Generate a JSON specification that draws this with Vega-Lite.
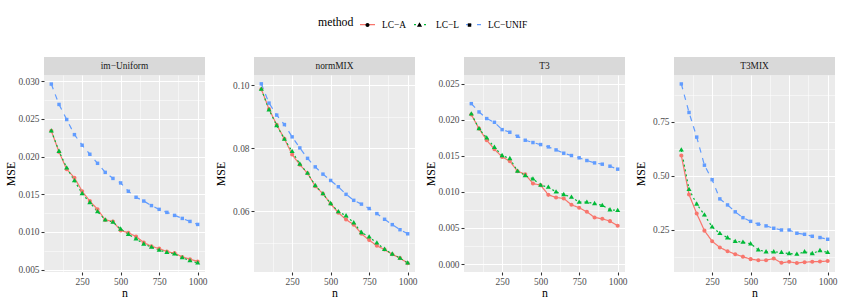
{
  "$schema": "https://vega.github.io/schema/vega-lite/v6.json",
  "padding": {"top": 16, "left": 5, "right": 5, "bottom": 5},
  "spacing": 7,
  "config": {
    "font": "Liberation Serif",
    "view": {"fill": "#EBEBEB", "stroke": null},
    "text": {"font": "Liberation Serif"},
    "axis": {
      "domain": false, "grid": true, "gridColor": "#FFFFFF",
      "tickColor": "#333333", "tickSize": 3, "tickWidth": 1.07,
      "labelColor": "#4D4D4D", "labelFontSize": 9.4, "labelFont": "Liberation Serif", "labelPadding": 2,
      "titleFont": "Liberation Serif", "titleFontSize": 11.8, "titleFontWeight": "normal", "titleColor": "#000000"
    },
    "legend": {"labelFont": "Liberation Serif", "titleFont": "Liberation Serif"}
  },
  "datasets": {
    "d": [
      {"panel":"im−Uniform","method":"LC−A","n":50,"MSE":0.0234},{"panel":"im−Uniform","method":"LC−A","n":100,"MSE":0.0206},{"panel":"im−Uniform","method":"LC−A","n":150,"MSE":0.0183},{"panel":"im−Uniform","method":"LC−A","n":200,"MSE":0.0172},{"panel":"im−Uniform","method":"LC−A","n":250,"MSE":0.0154},{"panel":"im−Uniform","method":"LC−A","n":300,"MSE":0.0141},{"panel":"im−Uniform","method":"LC−A","n":350,"MSE":0.0130},{"panel":"im−Uniform","method":"LC−A","n":400,"MSE":0.0116},{"panel":"im−Uniform","method":"LC−A","n":450,"MSE":0.0114},{"panel":"im−Uniform","method":"LC−A","n":500,"MSE":0.0102},{"panel":"im−Uniform","method":"LC−A","n":550,"MSE":0.0099},{"panel":"im−Uniform","method":"LC−A","n":600,"MSE":0.0094},{"panel":"im−Uniform","method":"LC−A","n":650,"MSE":0.0086},{"panel":"im−Uniform","method":"LC−A","n":700,"MSE":0.0081},{"panel":"im−Uniform","method":"LC−A","n":750,"MSE":0.0078},{"panel":"im−Uniform","method":"LC−A","n":800,"MSE":0.0074},{"panel":"im−Uniform","method":"LC−A","n":850,"MSE":0.0072},{"panel":"im−Uniform","method":"LC−A","n":900,"MSE":0.0067},{"panel":"im−Uniform","method":"LC−A","n":950,"MSE":0.0064},{"panel":"im−Uniform","method":"LC−A","n":1000,"MSE":0.0061},
      {"panel":"im−Uniform","method":"LC−L","n":50,"MSE":0.0234},{"panel":"im−Uniform","method":"LC−L","n":100,"MSE":0.0207},{"panel":"im−Uniform","method":"LC−L","n":150,"MSE":0.0185},{"panel":"im−Uniform","method":"LC−L","n":200,"MSE":0.0168},{"panel":"im−Uniform","method":"LC−L","n":250,"MSE":0.0151},{"panel":"im−Uniform","method":"LC−L","n":300,"MSE":0.0139},{"panel":"im−Uniform","method":"LC−L","n":350,"MSE":0.0127},{"panel":"im−Uniform","method":"LC−L","n":400,"MSE":0.0116},{"panel":"im−Uniform","method":"LC−L","n":450,"MSE":0.0113},{"panel":"im−Uniform","method":"LC−L","n":500,"MSE":0.0104},{"panel":"im−Uniform","method":"LC−L","n":550,"MSE":0.0097},{"panel":"im−Uniform","method":"LC−L","n":600,"MSE":0.0091},{"panel":"im−Uniform","method":"LC−L","n":650,"MSE":0.0084},{"panel":"im−Uniform","method":"LC−L","n":700,"MSE":0.0080},{"panel":"im−Uniform","method":"LC−L","n":750,"MSE":0.0076},{"panel":"im−Uniform","method":"LC−L","n":800,"MSE":0.0073},{"panel":"im−Uniform","method":"LC−L","n":850,"MSE":0.0071},{"panel":"im−Uniform","method":"LC−L","n":900,"MSE":0.0066},{"panel":"im−Uniform","method":"LC−L","n":950,"MSE":0.0062},{"panel":"im−Uniform","method":"LC−L","n":1000,"MSE":0.0059},
      {"panel":"im−Uniform","method":"LC−UNIF","n":50,"MSE":0.0296},{"panel":"im−Uniform","method":"LC−UNIF","n":100,"MSE":0.0269},{"panel":"im−Uniform","method":"LC−UNIF","n":150,"MSE":0.0249},{"panel":"im−Uniform","method":"LC−UNIF","n":200,"MSE":0.0229},{"panel":"im−Uniform","method":"LC−UNIF","n":250,"MSE":0.0215},{"panel":"im−Uniform","method":"LC−UNIF","n":300,"MSE":0.0203},{"panel":"im−Uniform","method":"LC−UNIF","n":350,"MSE":0.0191},{"panel":"im−Uniform","method":"LC−UNIF","n":400,"MSE":0.0179},{"panel":"im−Uniform","method":"LC−UNIF","n":450,"MSE":0.0171},{"panel":"im−Uniform","method":"LC−UNIF","n":500,"MSE":0.0165},{"panel":"im−Uniform","method":"LC−UNIF","n":550,"MSE":0.0154},{"panel":"im−Uniform","method":"LC−UNIF","n":600,"MSE":0.0146},{"panel":"im−Uniform","method":"LC−UNIF","n":650,"MSE":0.0141},{"panel":"im−Uniform","method":"LC−UNIF","n":700,"MSE":0.0135},{"panel":"im−Uniform","method":"LC−UNIF","n":750,"MSE":0.0130},{"panel":"im−Uniform","method":"LC−UNIF","n":800,"MSE":0.0126},{"panel":"im−Uniform","method":"LC−UNIF","n":850,"MSE":0.0122},{"panel":"im−Uniform","method":"LC−UNIF","n":900,"MSE":0.0118},{"panel":"im−Uniform","method":"LC−UNIF","n":950,"MSE":0.0114},{"panel":"im−Uniform","method":"LC−UNIF","n":1000,"MSE":0.0110},

      {"panel":"normMIX","method":"LC−A","n":50,"MSE":0.0987},{"panel":"normMIX","method":"LC−A","n":100,"MSE":0.0924},{"panel":"normMIX","method":"LC−A","n":150,"MSE":0.0874},{"panel":"normMIX","method":"LC−A","n":200,"MSE":0.0830},{"panel":"normMIX","method":"LC−A","n":250,"MSE":0.0780},{"panel":"normMIX","method":"LC−A","n":300,"MSE":0.0748},{"panel":"normMIX","method":"LC−A","n":350,"MSE":0.0721},{"panel":"normMIX","method":"LC−A","n":400,"MSE":0.0680},{"panel":"normMIX","method":"LC−A","n":450,"MSE":0.0656},{"panel":"normMIX","method":"LC−A","n":500,"MSE":0.0624},{"panel":"normMIX","method":"LC−A","n":550,"MSE":0.0596},{"panel":"normMIX","method":"LC−A","n":600,"MSE":0.0574},{"panel":"normMIX","method":"LC−A","n":650,"MSE":0.0558},{"panel":"normMIX","method":"LC−A","n":700,"MSE":0.0529},{"panel":"normMIX","method":"LC−A","n":750,"MSE":0.0509},{"panel":"normMIX","method":"LC−A","n":800,"MSE":0.0491},{"panel":"normMIX","method":"LC−A","n":850,"MSE":0.0479},{"panel":"normMIX","method":"LC−A","n":900,"MSE":0.0464},{"panel":"normMIX","method":"LC−A","n":950,"MSE":0.0452},{"panel":"normMIX","method":"LC−A","n":1000,"MSE":0.0436},
      {"panel":"normMIX","method":"LC−L","n":50,"MSE":0.0987},{"panel":"normMIX","method":"LC−L","n":100,"MSE":0.0922},{"panel":"normMIX","method":"LC−L","n":150,"MSE":0.0872},{"panel":"normMIX","method":"LC−L","n":200,"MSE":0.0829},{"panel":"normMIX","method":"LC−L","n":250,"MSE":0.0790},{"panel":"normMIX","method":"LC−L","n":300,"MSE":0.0750},{"panel":"normMIX","method":"LC−L","n":350,"MSE":0.0721},{"panel":"normMIX","method":"LC−L","n":400,"MSE":0.0682},{"panel":"normMIX","method":"LC−L","n":450,"MSE":0.0656},{"panel":"normMIX","method":"LC−L","n":500,"MSE":0.0625},{"panel":"normMIX","method":"LC−L","n":550,"MSE":0.0599},{"panel":"normMIX","method":"LC−L","n":600,"MSE":0.0586},{"panel":"normMIX","method":"LC−L","n":650,"MSE":0.0564},{"panel":"normMIX","method":"LC−L","n":700,"MSE":0.0533},{"panel":"normMIX","method":"LC−L","n":750,"MSE":0.0519},{"panel":"normMIX","method":"LC−L","n":800,"MSE":0.0500},{"panel":"normMIX","method":"LC−L","n":850,"MSE":0.0480},{"panel":"normMIX","method":"LC−L","n":900,"MSE":0.0465},{"panel":"normMIX","method":"LC−L","n":950,"MSE":0.0452},{"panel":"normMIX","method":"LC−L","n":1000,"MSE":0.0437},
      {"panel":"normMIX","method":"LC−UNIF","n":50,"MSE":0.1004},{"panel":"normMIX","method":"LC−UNIF","n":100,"MSE":0.0943},{"panel":"normMIX","method":"LC−UNIF","n":150,"MSE":0.0905},{"panel":"normMIX","method":"LC−UNIF","n":200,"MSE":0.0875},{"panel":"normMIX","method":"LC−UNIF","n":250,"MSE":0.0836},{"panel":"normMIX","method":"LC−UNIF","n":300,"MSE":0.0801},{"panel":"normMIX","method":"LC−UNIF","n":350,"MSE":0.0768},{"panel":"normMIX","method":"LC−UNIF","n":400,"MSE":0.0741},{"panel":"normMIX","method":"LC−UNIF","n":450,"MSE":0.0718},{"panel":"normMIX","method":"LC−UNIF","n":500,"MSE":0.0698},{"panel":"normMIX","method":"LC−UNIF","n":550,"MSE":0.0678},{"panel":"normMIX","method":"LC−UNIF","n":600,"MSE":0.0654},{"panel":"normMIX","method":"LC−UNIF","n":650,"MSE":0.0635},{"panel":"normMIX","method":"LC−UNIF","n":700,"MSE":0.0623},{"panel":"normMIX","method":"LC−UNIF","n":750,"MSE":0.0609},{"panel":"normMIX","method":"LC−UNIF","n":800,"MSE":0.0593},{"panel":"normMIX","method":"LC−UNIF","n":850,"MSE":0.0575},{"panel":"normMIX","method":"LC−UNIF","n":900,"MSE":0.0558},{"panel":"normMIX","method":"LC−UNIF","n":950,"MSE":0.0542},{"panel":"normMIX","method":"LC−UNIF","n":1000,"MSE":0.0529},

      {"panel":"T3","method":"LC−A","n":50,"MSE":0.02071},{"panel":"T3","method":"LC−A","n":100,"MSE":0.01877},{"panel":"T3","method":"LC−A","n":150,"MSE":0.01716},{"panel":"T3","method":"LC−A","n":200,"MSE":0.01591},{"panel":"T3","method":"LC−A","n":250,"MSE":0.01485},{"panel":"T3","method":"LC−A","n":300,"MSE":0.01425},{"panel":"T3","method":"LC−A","n":350,"MSE":0.01287},{"panel":"T3","method":"LC−A","n":400,"MSE":0.01245},{"panel":"T3","method":"LC−A","n":450,"MSE":0.01116},{"panel":"T3","method":"LC−A","n":500,"MSE":0.01093},{"panel":"T3","method":"LC−A","n":550,"MSE":0.00959},{"panel":"T3","method":"LC−A","n":600,"MSE":0.00923},{"panel":"T3","method":"LC−A","n":650,"MSE":0.00909},{"panel":"T3","method":"LC−A","n":700,"MSE":0.00821},{"panel":"T3","method":"LC−A","n":750,"MSE":0.00780},{"panel":"T3","method":"LC−A","n":800,"MSE":0.00724},{"panel":"T3","method":"LC−A","n":850,"MSE":0.00646},{"panel":"T3","method":"LC−A","n":900,"MSE":0.00627},{"panel":"T3","method":"LC−A","n":950,"MSE":0.00595},{"panel":"T3","method":"LC−A","n":1000,"MSE":0.00530},
      {"panel":"T3","method":"LC−L","n":50,"MSE":0.02080},{"panel":"T3","method":"LC−L","n":100,"MSE":0.01877},{"panel":"T3","method":"LC−L","n":150,"MSE":0.01748},{"panel":"T3","method":"LC−L","n":200,"MSE":0.01619},{"panel":"T3","method":"LC−L","n":250,"MSE":0.01504},{"panel":"T3","method":"LC−L","n":300,"MSE":0.01462},{"panel":"T3","method":"LC−L","n":350,"MSE":0.01287},{"panel":"T3","method":"LC−L","n":400,"MSE":0.01227},{"panel":"T3","method":"LC−L","n":450,"MSE":0.01181},{"panel":"T3","method":"LC−L","n":500,"MSE":0.01093},{"panel":"T3","method":"LC−L","n":550,"MSE":0.01065},{"panel":"T3","method":"LC−L","n":600,"MSE":0.01001},{"panel":"T3","method":"LC−L","n":650,"MSE":0.00964},{"panel":"T3","method":"LC−L","n":700,"MSE":0.00927},{"panel":"T3","method":"LC−L","n":750,"MSE":0.00858},{"panel":"T3","method":"LC−L","n":800,"MSE":0.00858},{"panel":"T3","method":"LC−L","n":850,"MSE":0.00839},{"panel":"T3","method":"LC−L","n":900,"MSE":0.00812},{"panel":"T3","method":"LC−L","n":950,"MSE":0.00752},{"panel":"T3","method":"LC−L","n":1000,"MSE":0.00743},
      {"panel":"T3","method":"LC−UNIF","n":50,"MSE":0.02223},{"panel":"T3","method":"LC−UNIF","n":100,"MSE":0.02108},{"panel":"T3","method":"LC−UNIF","n":150,"MSE":0.02016},{"panel":"T3","method":"LC−UNIF","n":200,"MSE":0.01965},{"panel":"T3","method":"LC−UNIF","n":250,"MSE":0.01863},{"panel":"T3","method":"LC−UNIF","n":300,"MSE":0.01827},{"panel":"T3","method":"LC−UNIF","n":350,"MSE":0.01771},{"panel":"T3","method":"LC−UNIF","n":400,"MSE":0.01716},{"panel":"T3","method":"LC−UNIF","n":450,"MSE":0.01684},{"panel":"T3","method":"LC−UNIF","n":500,"MSE":0.01656},{"panel":"T3","method":"LC−UNIF","n":550,"MSE":0.01624},{"panel":"T3","method":"LC−UNIF","n":600,"MSE":0.01582},{"panel":"T3","method":"LC−UNIF","n":650,"MSE":0.01536},{"panel":"T3","method":"LC−UNIF","n":700,"MSE":0.01504},{"panel":"T3","method":"LC−UNIF","n":750,"MSE":0.01472},{"panel":"T3","method":"LC−UNIF","n":800,"MSE":0.01435},{"panel":"T3","method":"LC−UNIF","n":850,"MSE":0.01402},{"panel":"T3","method":"LC−UNIF","n":900,"MSE":0.01384},{"panel":"T3","method":"LC−UNIF","n":950,"MSE":0.01356},{"panel":"T3","method":"LC−UNIF","n":1000,"MSE":0.01315},

      {"panel":"T3MIX","method":"LC−A","n":50,"MSE":0.593},{"panel":"T3MIX","method":"LC−A","n":100,"MSE":0.412},{"panel":"T3MIX","method":"LC−A","n":150,"MSE":0.324},{"panel":"T3MIX","method":"LC−A","n":200,"MSE":0.245},{"panel":"T3MIX","method":"LC−A","n":250,"MSE":0.196},{"panel":"T3MIX","method":"LC−A","n":300,"MSE":0.167},{"panel":"T3MIX","method":"LC−A","n":350,"MSE":0.150},{"panel":"T3MIX","method":"LC−A","n":400,"MSE":0.136},{"panel":"T3MIX","method":"LC−A","n":450,"MSE":0.124},{"panel":"T3MIX","method":"LC−A","n":500,"MSE":0.113},{"panel":"T3MIX","method":"LC−A","n":550,"MSE":0.108},{"panel":"T3MIX","method":"LC−A","n":600,"MSE":0.108},{"panel":"T3MIX","method":"LC−A","n":650,"MSE":0.116},{"panel":"T3MIX","method":"LC−A","n":700,"MSE":0.096},{"panel":"T3MIX","method":"LC−A","n":750,"MSE":0.101},{"panel":"T3MIX","method":"LC−A","n":800,"MSE":0.095},{"panel":"T3MIX","method":"LC−A","n":850,"MSE":0.099},{"panel":"T3MIX","method":"LC−A","n":900,"MSE":0.101},{"panel":"T3MIX","method":"LC−A","n":950,"MSE":0.102},{"panel":"T3MIX","method":"LC−A","n":1000,"MSE":0.104},
      {"panel":"T3MIX","method":"LC−L","n":50,"MSE":0.619},{"panel":"T3MIX","method":"LC−L","n":100,"MSE":0.436},{"panel":"T3MIX","method":"LC−L","n":150,"MSE":0.368},{"panel":"T3MIX","method":"LC−L","n":200,"MSE":0.318},{"panel":"T3MIX","method":"LC−L","n":250,"MSE":0.262},{"panel":"T3MIX","method":"LC−L","n":300,"MSE":0.232},{"panel":"T3MIX","method":"LC−L","n":350,"MSE":0.212},{"panel":"T3MIX","method":"LC−L","n":400,"MSE":0.195},{"panel":"T3MIX","method":"LC−L","n":450,"MSE":0.192},{"panel":"T3MIX","method":"LC−L","n":500,"MSE":0.184},{"panel":"T3MIX","method":"LC−L","n":550,"MSE":0.156},{"panel":"T3MIX","method":"LC−L","n":600,"MSE":0.147},{"panel":"T3MIX","method":"LC−L","n":650,"MSE":0.147},{"panel":"T3MIX","method":"LC−L","n":700,"MSE":0.144},{"panel":"T3MIX","method":"LC−L","n":750,"MSE":0.139},{"panel":"T3MIX","method":"LC−L","n":800,"MSE":0.136},{"panel":"T3MIX","method":"LC−L","n":850,"MSE":0.147},{"panel":"T3MIX","method":"LC−L","n":900,"MSE":0.139},{"panel":"T3MIX","method":"LC−L","n":950,"MSE":0.153},{"panel":"T3MIX","method":"LC−L","n":1000,"MSE":0.144},
      {"panel":"T3MIX","method":"LC−UNIF","n":50,"MSE":0.924},{"panel":"T3MIX","method":"LC−UNIF","n":100,"MSE":0.792},{"panel":"T3MIX","method":"LC−UNIF","n":150,"MSE":0.678},{"panel":"T3MIX","method":"LC−UNIF","n":200,"MSE":0.548},{"panel":"T3MIX","method":"LC−UNIF","n":250,"MSE":0.481},{"panel":"T3MIX","method":"LC−UNIF","n":300,"MSE":0.392},{"panel":"T3MIX","method":"LC−UNIF","n":350,"MSE":0.364},{"panel":"T3MIX","method":"LC−UNIF","n":400,"MSE":0.332},{"panel":"T3MIX","method":"LC−UNIF","n":450,"MSE":0.305},{"panel":"T3MIX","method":"LC−UNIF","n":500,"MSE":0.288},{"panel":"T3MIX","method":"LC−UNIF","n":550,"MSE":0.275},{"panel":"T3MIX","method":"LC−UNIF","n":600,"MSE":0.267},{"panel":"T3MIX","method":"LC−UNIF","n":650,"MSE":0.256},{"panel":"T3MIX","method":"LC−UNIF","n":700,"MSE":0.248},{"panel":"T3MIX","method":"LC−UNIF","n":750,"MSE":0.248},{"panel":"T3MIX","method":"LC−UNIF","n":800,"MSE":0.233},{"panel":"T3MIX","method":"LC−UNIF","n":850,"MSE":0.228},{"panel":"T3MIX","method":"LC−UNIF","n":900,"MSE":0.219},{"panel":"T3MIX","method":"LC−UNIF","n":950,"MSE":0.213},{"panel":"T3MIX","method":"LC−UNIF","n":1000,"MSE":0.205}
    ]
  },
  "resolve": {"scale": {"color": "shared", "shape": "shared", "strokeDash": "shared"}, "legend": {"color": "shared", "shape": "shared", "strokeDash": "shared"}},
  "hconcat": [
    {"spacing": 0, "bounds": "flush", "vconcat": [
      {"width": 161, "height": 18, "view": {"fill": "#D9D9D9", "stroke": null}, "data": {"values": [{"label": "im−Uniform"}]}, "mark": {"type": "text", "font": "Liberation Serif", "fontSize": 9.4, "color": "#1A1A1A"}, "encoding": {"text": {"field": "label"}}},
      {"width": 161, "height": 197, "data": {"name": "d"}, "transform": [{"filter": "datum.panel === 'im−Uniform'"}],
       "encoding": {
         "x": {"field": "n", "type": "quantitative", "scale": {"domain": [2.5, 1047.5], "nice": false, "zero": false}, "axis": {"title": "n", "titlePadding": 2, "format": "d", "values": [125,250,375,500,625,750,875,1000], "labelExpr": "datum.value % 250 === 0 ? datum.label : ''", "tickOpacity": {"condition": {"test": "datum.value % 250 === 0", "value": 1}, "value": 0}, "gridWidth": {"condition": {"test": "datum.value % 250 === 0", "value": 1.07}, "value": 0.53}}},
         "y": {"field": "MSE", "type": "quantitative", "scale": {"domain": [0.0047, 0.0308], "nice": false, "zero": false}, "axis": {"title": "MSE", "titlePadding": 2, "minExtent": 26, "maxExtent": 26, "format": ".3f", "values": [0.005,0.0075,0.01,0.0125,0.015,0.0175,0.02,0.0225,0.025,0.0275,0.03], "labelExpr": "abs(datum.value*200 - round(datum.value*200)) < 1e-6 ? datum.label : ''", "tickOpacity": {"condition": {"test": "abs(datum.value*200 - round(datum.value*200)) < 1e-6", "value": 1}, "value": 0}, "gridWidth": {"condition": {"test": "abs(datum.value*200 - round(datum.value*200)) < 1e-6", "value": 1.07}, "value": 0.53}}}
       },
       "layer": [
         {"mark": {"type": "line", "strokeWidth": 1.2}, "encoding": {
           "color": {"field": "method", "type": "nominal", "scale": {"domain": ["LC−A", "LC−L", "LC−UNIF"], "range": ["#F8766D", "#00BA38", "#619CFF"]}, "legend": {"orient": "none", "legendX": 274, "legendY": -41, "direction": "horizontal", "title": "method", "titleOrient": "left", "titleAnchor": "middle", "titleBaseline": "middle", "titleFontSize": 11.8, "titleFontWeight": "normal", "titleColor": "#000000", "titlePadding": 5, "labelFontSize": 9.4, "labelColor": "#000000", "labelOffset": 6, "columnPadding": 4, "symbolType": "stroke", "symbolSize": 225, "symbolStrokeWidth": 1.3}},
           "strokeDash": {"field": "method", "type": "nominal", "scale": {"domain": ["LC−A", "LC−L", "LC−UNIF"], "range": [[1, 0], [2, 3], [5.5, 5.5]]}, "legend": {"orient": "none", "legendX": 274, "legendY": -41, "direction": "horizontal", "title": "method", "titleOrient": "left", "titleAnchor": "middle", "titleBaseline": "middle", "titleFontSize": 11.8, "titleFontWeight": "normal", "titleColor": "#000000", "titlePadding": 5, "labelFontSize": 9.4, "labelColor": "#000000", "labelOffset": 6, "columnPadding": 4, "symbolType": "stroke", "symbolSize": 225, "symbolStrokeWidth": 1.3}}}},
         {"mark": {"type": "point", "filled": true, "opacity": 1, "size": 225}, "encoding": {
           "color": {"field": "method", "type": "nominal", "scale": {"domain": ["LC−A", "LC−L", "LC−UNIF"], "range": ["#F8766D", "#00BA38", "#619CFF"]}, "legend": null},
           "shape": {"field": "method", "type": "nominal", "scale": {"range": ["M -0.27 0 A 0.27 0.27 0 1 0 0.27 0 A 0.27 0.27 0 1 0 -0.27 0 Z", "M 0 -0.36 L 0.34 0.22 L -0.34 0.22 Z", "M -0.23 -0.23 L 0.23 -0.23 L 0.23 0.23 L -0.23 0.23 Z"]}, "legend": {"orient": "none", "legendX": 274, "legendY": -41, "direction": "horizontal", "title": "method", "titleOrient": "left", "titleAnchor": "middle", "titleBaseline": "middle", "titleFontSize": 11.8, "titleFontWeight": "normal", "titleOpacity": 0, "titlePadding": 5, "labelFontSize": 9.4, "labelOpacity": 0, "labelOffset": 6, "columnPadding": 4, "symbolSize": 225, "symbolStrokeWidth": 1.3, "symbolStrokeColor": "transparent", "encode": {"symbols": {"fill": {"value": {"expr": "datum.value === 'LC−A' ? '#F8766D' : (datum.value === 'LC−L' ? '#00BA38' : '#619CFF')"}}, "fillOpacity": {"value": 1}}}}}}}
       ]}
    ]},
    {"spacing": 0, "bounds": "flush", "vconcat": [
      {"width": 161, "height": 18, "view": {"fill": "#D9D9D9", "stroke": null}, "data": {"values": [{"label": "normMIX"}]}, "mark": {"type": "text", "font": "Liberation Serif", "fontSize": 9.4, "color": "#1A1A1A"}, "encoding": {"text": {"field": "label"}}},
      {"width": 161, "height": 197, "data": {"name": "d"}, "transform": [{"filter": "datum.panel === 'normMIX'"}],
       "encoding": {
         "x": {"field": "n", "type": "quantitative", "scale": {"domain": [2.5, 1047.5], "nice": false, "zero": false}, "axis": {"title": "n", "titlePadding": 2, "format": "d", "values": [125,250,375,500,625,750,875,1000], "labelExpr": "datum.value % 250 === 0 ? datum.label : ''", "tickOpacity": {"condition": {"test": "datum.value % 250 === 0", "value": 1}, "value": 0}, "gridWidth": {"condition": {"test": "datum.value % 250 === 0", "value": 1.07}, "value": 0.53}}},
         "y": {"field": "MSE", "type": "quantitative", "scale": {"domain": [0.0408, 0.1032], "nice": false, "zero": false}, "axis": {"title": "MSE", "titlePadding": 2, "minExtent": 26, "maxExtent": 26, "format": ".2f", "values": [0.05,0.06,0.07,0.08,0.09,0.1], "labelExpr": "abs(datum.value*50 - round(datum.value*50)) < 1e-6 ? datum.label : ''", "tickOpacity": {"condition": {"test": "abs(datum.value*50 - round(datum.value*50)) < 1e-6", "value": 1}, "value": 0}, "gridWidth": {"condition": {"test": "abs(datum.value*50 - round(datum.value*50)) < 1e-6", "value": 1.07}, "value": 0.53}}}
       },
       "layer": [
         {"mark": {"type": "line", "strokeWidth": 1.2}, "encoding": {
           "color": {"field": "method", "type": "nominal", "scale": {"domain": ["LC−A", "LC−L", "LC−UNIF"], "range": ["#F8766D", "#00BA38", "#619CFF"]}, "legend": {"orient": "none", "legendX": 274, "legendY": -41, "direction": "horizontal", "title": "method", "titleOrient": "left", "titleAnchor": "middle", "titleBaseline": "middle", "titleFontSize": 11.8, "titleFontWeight": "normal", "titleColor": "#000000", "titlePadding": 5, "labelFontSize": 9.4, "labelColor": "#000000", "labelOffset": 6, "columnPadding": 4, "symbolType": "stroke", "symbolSize": 225, "symbolStrokeWidth": 1.3}},
           "strokeDash": {"field": "method", "type": "nominal", "scale": {"domain": ["LC−A", "LC−L", "LC−UNIF"], "range": [[1, 0], [2, 3], [5.5, 5.5]]}, "legend": {"orient": "none", "legendX": 274, "legendY": -41, "direction": "horizontal", "title": "method", "titleOrient": "left", "titleAnchor": "middle", "titleBaseline": "middle", "titleFontSize": 11.8, "titleFontWeight": "normal", "titleColor": "#000000", "titlePadding": 5, "labelFontSize": 9.4, "labelColor": "#000000", "labelOffset": 6, "columnPadding": 4, "symbolType": "stroke", "symbolSize": 225, "symbolStrokeWidth": 1.3}}}},
         {"mark": {"type": "point", "filled": true, "opacity": 1, "size": 225}, "encoding": {
           "color": {"field": "method", "type": "nominal", "scale": {"domain": ["LC−A", "LC−L", "LC−UNIF"], "range": ["#F8766D", "#00BA38", "#619CFF"]}, "legend": null},
           "shape": {"field": "method", "type": "nominal", "scale": {"range": ["M -0.27 0 A 0.27 0.27 0 1 0 0.27 0 A 0.27 0.27 0 1 0 -0.27 0 Z", "M 0 -0.36 L 0.34 0.22 L -0.34 0.22 Z", "M -0.23 -0.23 L 0.23 -0.23 L 0.23 0.23 L -0.23 0.23 Z"]}, "legend": {"orient": "none", "legendX": 274, "legendY": -41, "direction": "horizontal", "title": "method", "titleOrient": "left", "titleAnchor": "middle", "titleBaseline": "middle", "titleFontSize": 11.8, "titleFontWeight": "normal", "titleOpacity": 0, "titlePadding": 5, "labelFontSize": 9.4, "labelOpacity": 0, "labelOffset": 6, "columnPadding": 4, "symbolSize": 225, "symbolStrokeWidth": 1.3, "symbolStrokeColor": "transparent", "encode": {"symbols": {"fill": {"value": {"expr": "datum.value === 'LC−A' ? '#F8766D' : (datum.value === 'LC−L' ? '#00BA38' : '#619CFF')"}}, "fillOpacity": {"value": 1}}}}}}}
       ]}
    ]},
    {"spacing": 0, "bounds": "flush", "vconcat": [
      {"width": 161, "height": 18, "view": {"fill": "#D9D9D9", "stroke": null}, "data": {"values": [{"label": "T3"}]}, "mark": {"type": "text", "font": "Liberation Serif", "fontSize": 9.4, "color": "#1A1A1A"}, "encoding": {"text": {"field": "label"}}},
      {"width": 161, "height": 197, "data": {"name": "d"}, "transform": [{"filter": "datum.panel === 'T3'"}],
       "encoding": {
         "x": {"field": "n", "type": "quantitative", "scale": {"domain": [2.5, 1047.5], "nice": false, "zero": false}, "axis": {"title": "n", "titlePadding": 2, "format": "d", "values": [125,250,375,500,625,750,875,1000], "labelExpr": "datum.value % 250 === 0 ? datum.label : ''", "tickOpacity": {"condition": {"test": "datum.value % 250 === 0", "value": 1}, "value": 0}, "gridWidth": {"condition": {"test": "datum.value % 250 === 0", "value": 1.07}, "value": 0.53}}},
         "y": {"field": "MSE", "type": "quantitative", "scale": {"domain": [-0.0011, 0.0262], "nice": false, "zero": false}, "axis": {"title": "MSE", "titlePadding": 2, "minExtent": 26, "maxExtent": 26, "format": ".3f", "values": [0,0.0025,0.005,0.0075,0.01,0.0125,0.015,0.0175,0.02,0.0225,0.025], "labelExpr": "abs(datum.value*200 - round(datum.value*200)) < 1e-6 ? datum.label : ''", "tickOpacity": {"condition": {"test": "abs(datum.value*200 - round(datum.value*200)) < 1e-6", "value": 1}, "value": 0}, "gridWidth": {"condition": {"test": "abs(datum.value*200 - round(datum.value*200)) < 1e-6", "value": 1.07}, "value": 0.53}}}
       },
       "layer": [
         {"mark": {"type": "line", "strokeWidth": 1.2}, "encoding": {
           "color": {"field": "method", "type": "nominal", "scale": {"domain": ["LC−A", "LC−L", "LC−UNIF"], "range": ["#F8766D", "#00BA38", "#619CFF"]}, "legend": {"orient": "none", "legendX": 274, "legendY": -41, "direction": "horizontal", "title": "method", "titleOrient": "left", "titleAnchor": "middle", "titleBaseline": "middle", "titleFontSize": 11.8, "titleFontWeight": "normal", "titleColor": "#000000", "titlePadding": 5, "labelFontSize": 9.4, "labelColor": "#000000", "labelOffset": 6, "columnPadding": 4, "symbolType": "stroke", "symbolSize": 225, "symbolStrokeWidth": 1.3}},
           "strokeDash": {"field": "method", "type": "nominal", "scale": {"domain": ["LC−A", "LC−L", "LC−UNIF"], "range": [[1, 0], [2, 3], [5.5, 5.5]]}, "legend": {"orient": "none", "legendX": 274, "legendY": -41, "direction": "horizontal", "title": "method", "titleOrient": "left", "titleAnchor": "middle", "titleBaseline": "middle", "titleFontSize": 11.8, "titleFontWeight": "normal", "titleColor": "#000000", "titlePadding": 5, "labelFontSize": 9.4, "labelColor": "#000000", "labelOffset": 6, "columnPadding": 4, "symbolType": "stroke", "symbolSize": 225, "symbolStrokeWidth": 1.3}}}},
         {"mark": {"type": "point", "filled": true, "opacity": 1, "size": 225}, "encoding": {
           "color": {"field": "method", "type": "nominal", "scale": {"domain": ["LC−A", "LC−L", "LC−UNIF"], "range": ["#F8766D", "#00BA38", "#619CFF"]}, "legend": null},
           "shape": {"field": "method", "type": "nominal", "scale": {"range": ["M -0.27 0 A 0.27 0.27 0 1 0 0.27 0 A 0.27 0.27 0 1 0 -0.27 0 Z", "M 0 -0.36 L 0.34 0.22 L -0.34 0.22 Z", "M -0.23 -0.23 L 0.23 -0.23 L 0.23 0.23 L -0.23 0.23 Z"]}, "legend": {"orient": "none", "legendX": 274, "legendY": -41, "direction": "horizontal", "title": "method", "titleOrient": "left", "titleAnchor": "middle", "titleBaseline": "middle", "titleFontSize": 11.8, "titleFontWeight": "normal", "titleOpacity": 0, "titlePadding": 5, "labelFontSize": 9.4, "labelOpacity": 0, "labelOffset": 6, "columnPadding": 4, "symbolSize": 225, "symbolStrokeWidth": 1.3, "symbolStrokeColor": "transparent", "encode": {"symbols": {"fill": {"value": {"expr": "datum.value === 'LC−A' ? '#F8766D' : (datum.value === 'LC−L' ? '#00BA38' : '#619CFF')"}}, "fillOpacity": {"value": 1}}}}}}}
       ]}
    ]},
    {"spacing": 0, "bounds": "flush", "vconcat": [
      {"width": 161, "height": 18, "view": {"fill": "#D9D9D9", "stroke": null}, "data": {"values": [{"label": "T3MIX"}]}, "mark": {"type": "text", "font": "Liberation Serif", "fontSize": 9.4, "color": "#1A1A1A"}, "encoding": {"text": {"field": "label"}}},
      {"width": 161, "height": 197, "data": {"name": "d"}, "transform": [{"filter": "datum.panel === 'T3MIX'"}],
       "encoding": {
         "x": {"field": "n", "type": "quantitative", "scale": {"domain": [2.5, 1047.5], "nice": false, "zero": false}, "axis": {"title": "n", "titlePadding": 2, "format": "d", "values": [125,250,375,500,625,750,875,1000], "labelExpr": "datum.value % 250 === 0 ? datum.label : ''", "tickOpacity": {"condition": {"test": "datum.value % 250 === 0", "value": 1}, "value": 0}, "gridWidth": {"condition": {"test": "datum.value % 250 === 0", "value": 1.07}, "value": 0.53}}},
         "y": {"field": "MSE", "type": "quantitative", "scale": {"domain": [0.0535, 0.9655], "nice": false, "zero": false}, "axis": {"title": "MSE", "titlePadding": 2, "minExtent": 26, "maxExtent": 26, "format": ".2f", "values": [0.125,0.25,0.375,0.5,0.625,0.75,0.875], "labelExpr": "abs(datum.value*4 - round(datum.value*4)) < 1e-6 ? datum.label : ''", "tickOpacity": {"condition": {"test": "abs(datum.value*4 - round(datum.value*4)) < 1e-6", "value": 1}, "value": 0}, "gridWidth": {"condition": {"test": "abs(datum.value*4 - round(datum.value*4)) < 1e-6", "value": 1.07}, "value": 0.53}}}
       },
       "layer": [
         {"mark": {"type": "line", "strokeWidth": 1.2}, "encoding": {
           "color": {"field": "method", "type": "nominal", "scale": {"domain": ["LC−A", "LC−L", "LC−UNIF"], "range": ["#F8766D", "#00BA38", "#619CFF"]}, "legend": {"orient": "none", "legendX": 274, "legendY": -41, "direction": "horizontal", "title": "method", "titleOrient": "left", "titleAnchor": "middle", "titleBaseline": "middle", "titleFontSize": 11.8, "titleFontWeight": "normal", "titleColor": "#000000", "titlePadding": 5, "labelFontSize": 9.4, "labelColor": "#000000", "labelOffset": 6, "columnPadding": 4, "symbolType": "stroke", "symbolSize": 225, "symbolStrokeWidth": 1.3}},
           "strokeDash": {"field": "method", "type": "nominal", "scale": {"domain": ["LC−A", "LC−L", "LC−UNIF"], "range": [[1, 0], [2, 3], [5.5, 5.5]]}, "legend": {"orient": "none", "legendX": 274, "legendY": -41, "direction": "horizontal", "title": "method", "titleOrient": "left", "titleAnchor": "middle", "titleBaseline": "middle", "titleFontSize": 11.8, "titleFontWeight": "normal", "titleColor": "#000000", "titlePadding": 5, "labelFontSize": 9.4, "labelColor": "#000000", "labelOffset": 6, "columnPadding": 4, "symbolType": "stroke", "symbolSize": 225, "symbolStrokeWidth": 1.3}}}},
         {"mark": {"type": "point", "filled": true, "opacity": 1, "size": 225}, "encoding": {
           "color": {"field": "method", "type": "nominal", "scale": {"domain": ["LC−A", "LC−L", "LC−UNIF"], "range": ["#F8766D", "#00BA38", "#619CFF"]}, "legend": null},
           "shape": {"field": "method", "type": "nominal", "scale": {"range": ["M -0.27 0 A 0.27 0.27 0 1 0 0.27 0 A 0.27 0.27 0 1 0 -0.27 0 Z", "M 0 -0.36 L 0.34 0.22 L -0.34 0.22 Z", "M -0.23 -0.23 L 0.23 -0.23 L 0.23 0.23 L -0.23 0.23 Z"]}, "legend": {"orient": "none", "legendX": 274, "legendY": -41, "direction": "horizontal", "title": "method", "titleOrient": "left", "titleAnchor": "middle", "titleBaseline": "middle", "titleFontSize": 11.8, "titleFontWeight": "normal", "titleOpacity": 0, "titlePadding": 5, "labelFontSize": 9.4, "labelOpacity": 0, "labelOffset": 6, "columnPadding": 4, "symbolSize": 225, "symbolStrokeWidth": 1.3, "symbolStrokeColor": "transparent", "encode": {"symbols": {"fill": {"value": {"expr": "datum.value === 'LC−A' ? '#F8766D' : (datum.value === 'LC−L' ? '#00BA38' : '#619CFF')"}}, "fillOpacity": {"value": 1}}}}}}}
       ]}
    ]}
  ]
}
